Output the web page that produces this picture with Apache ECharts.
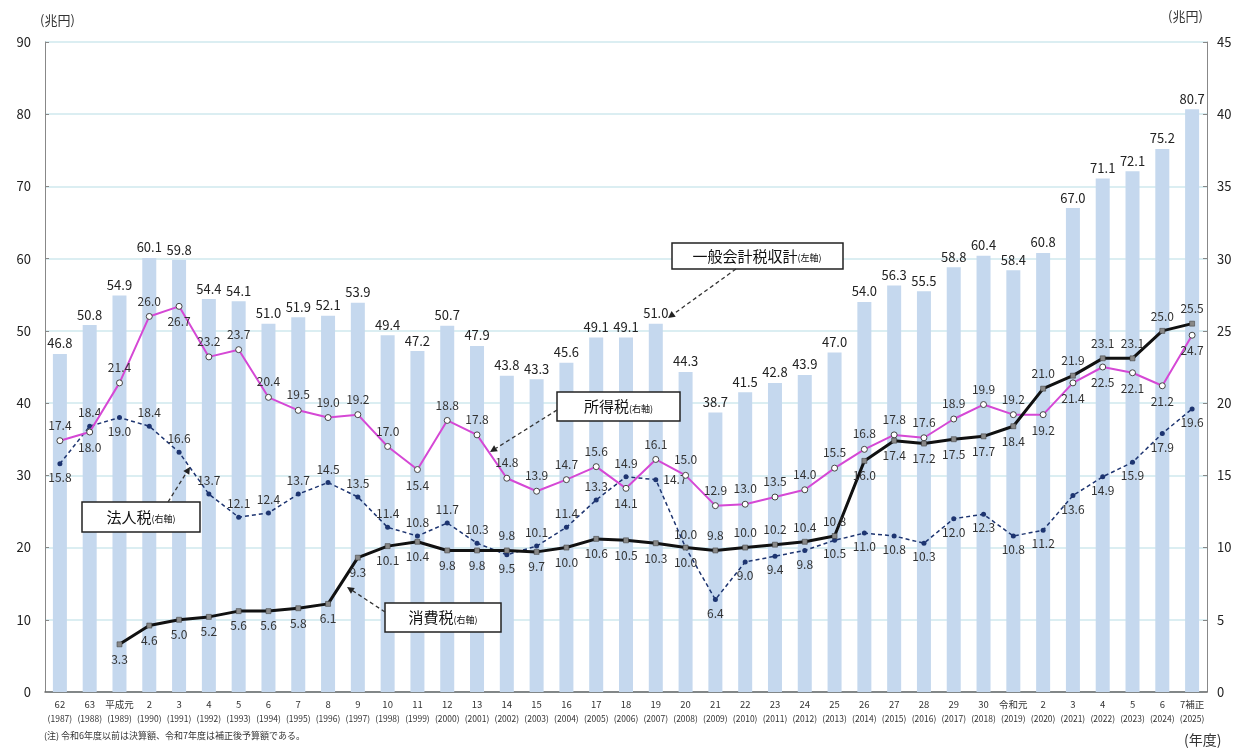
<!DOCTYPE html>
<html><head><meta charset="utf-8">
<script src="https://cdn.jsdelivr.net/npm/echarts@6/dist/echarts.min.js"></script>
<style>html,body{margin:0;padding:0;background:#fff}#c{width:1237px;height:753px}</style>
</head><body><div id="c"></div>
<script>
const eraLabels = ['62','63','平成元','2','3','4','5','6','7','8','9','10','11','12','13','14','15','16','17','18','19','20','21','22','23','24','25','26','27','28','29','30','令和元','2','3','4','5','6','7補正'];
const yearLabels = ['1987','1988','1989','1990','1991','1992','1993','1994','1995','1996','1997','1998','1999','2000','2001','2002','2003','2004','2005','2006','2007','2008','2009','2010','2011','2012','2013','2014','2015','2016','2017','2018','2019','2020','2021','2022','2023','2024','2025'];
const totalTax = [46.8,50.8,54.9,60.1,59.8,54.4,54.1,51.0,51.9,52.1,53.9,49.4,47.2,50.7,47.9,43.8,43.3,45.6,49.1,49.1,51.0,44.3,38.7,41.5,42.8,43.9,47.0,54.0,56.3,55.5,58.8,60.4,58.4,60.8,67.0,71.1,72.1,75.2,80.7];
const incomeTax = [17.4,18.0,21.4,26.0,26.7,23.2,23.7,20.4,19.5,19.0,19.2,17.0,15.4,18.8,17.8,14.8,13.9,14.7,15.6,14.1,16.1,15.0,12.9,13.0,13.5,14.0,15.5,16.8,17.8,17.6,18.9,19.9,19.2,19.2,21.4,22.5,22.1,21.2,24.7];
const corpTax = [15.8,18.4,19.0,18.4,16.6,13.7,12.1,12.4,13.7,14.5,13.5,11.4,10.8,11.7,10.3,9.5,10.1,11.4,13.3,14.9,14.7,10.0,6.4,9.0,9.4,9.8,10.5,11.0,10.8,10.3,12.0,12.3,10.8,11.2,13.6,14.9,15.9,17.9,19.6];
const consTax = [null,null,3.3,4.6,5.0,5.2,5.6,5.6,5.8,6.1,9.3,10.1,10.4,9.8,9.8,9.8,9.7,10.0,10.6,10.5,10.3,10.0,9.8,10.0,10.2,10.4,10.8,16.0,17.4,17.2,17.5,17.7,18.4,21.0,21.9,23.1,23.1,25.0,25.5];

// label placement (t=top, b=bottom, r=right)
const incomePos = ('tbttb' + 'ttttttt' + 'b' + 'tttttt' + 'b' + 'ttttttttttttt' + 'bbbbbb').split('');
const corpPos   = ('btbt' + 'ttttttttttt' + 'b' + 'tttt' + 'r' + 't' + 'bbbbbbbbbbbbbbbbb').split('');
const consPos   = ('bbbbbbbbbbbbbbb' + 't' + 'bbbbbb' + 'ttttt' + 'bbbbbb' + 'tttttt').split('');

const FONT = '"Noto Sans CJK JP", "Noto Sans", sans-serif';
const posMap = {t:'top', b:'bottom', r:'right'};
function mk(vals, pos){
  return vals.map((v,i)=> v==null ? '-' : ({value:v, label:{position:posMap[pos[i]]}}));
}
const chart = echarts.init(document.getElementById('c'));

function arrow(x1,y1,x2,y2){
  const ang = Math.atan2(y2-y1, x2-x1);
  const L = 7, W = 3.5;
  const bx = x2 - L*Math.cos(ang), by = y2 - L*Math.sin(ang);
  const px = -Math.sin(ang)*W, py = Math.cos(ang)*W;
  return [
    {type:'line', shape:{x1,y1,x2:bx,y2:by}, style:{stroke:'#333', lineWidth:1.3, lineDash:[4,3]}, z:100},
    {type:'polygon', shape:{points:[[x2,y2],[bx+px,by+py],[bx-px,by-py]]}, style:{fill:'#222'}, z:100}
  ];
}
function box(x,y,w,h,main){
  return [
    {type:'rect', shape:{x,y,width:w,height:h}, style:{fill:'#fff', stroke:'#222', lineWidth:1.5}, z:100},
    {type:'text', x:x+w/2, y:y+h/2, style:{text:'{a|'+main+'}{s|(右軸)}', align:'center', verticalAlign:'middle',
      rich:{a:{fontSize:15, fontFamily:FONT, fill:'#111'}, s:{fontSize:9, fontFamily:FONT, fill:'#111', padding:[4,0,0,0]}}}, z:101}
  ];
}

const graphic = [].concat(
  [{type:'text', left:40, top:14, style:{text:'(兆円)', fontSize:13, fontFamily:FONT, fill:'#333'}},
   {type:'text', left:1168, top:10, style:{text:'(兆円)', fontSize:13, fontFamily:FONT, fill:'#333'}},
   {type:'text', left:1184, top:733, style:{text:'(年度)', fontSize:14, fontFamily:FONT, fill:'#333'}},
   {type:'text', left:44, top:731, style:{text:'(注) 令和6年度以前は決算額、令和7年度は補正後予算額である。', fontSize:9, fontFamily:FONT, fill:'#333'}}],
  [{type:'rect', shape:{x:672,y:243,width:171,height:26}, style:{fill:'#fff', stroke:'#222', lineWidth:1.5}, z:100},
   {type:'text', x:757, y:256, style:{text:'{a|一般会計税収計}{s|(左軸)}', align:'center', verticalAlign:'middle',
     rich:{a:{fontSize:15, fontFamily:FONT, fill:'#111'}, s:{fontSize:9, fontFamily:FONT, fill:'#111', padding:[4,0,0,0]}}}, z:101}],
  arrow(736,269,668,318),
  box(557,392,123,29,'所得税'),
  arrow(557,410,490,452),
  box(82,502,118,30,'法人税'),
  arrow(168,502,190,467),
  box(385,603,116,29,'消費税'),
  arrow(385,612,347,587)
);

chart.setOption({
  animation:false,
  textStyle:{fontFamily:FONT},
  grid:{left:45, right:30, top:42, bottom:61},
  xAxis:{type:'category', data:eraLabels.map((e,i)=>e+'\n('+yearLabels[i]+')'),
    axisLine:{lineStyle:{color:'#666', width:1.5}}, axisTick:{show:false},
    axisLabel:{interval:0, fontSize:8.5, color:'#333', lineHeight:16, margin:4,
      formatter:(v)=>{const p=v.split('\n'); return '{a|'+p[0]+'}\n{b|'+p[1]+'}';},
      rich:{a:{fontSize:9.5, color:'#333', lineHeight:16}, b:{fontSize:8.5, color:'#333', lineHeight:14}}}},
  yAxis:[
    {type:'value', min:0, max:90, interval:10, position:'left',
      axisLine:{show:true, lineStyle:{color:'#888'}}, axisTick:{show:true, inside:true, length:4, lineStyle:{color:'#888'}},
      axisLabel:{fontSize:13, color:'#222', margin:14},
      splitLine:{lineStyle:{color:'#cfe8ee', width:1.5}}},
    {type:'value', min:0, max:45, interval:5, position:'right',
      axisLine:{show:true, lineStyle:{color:'#888'}}, axisTick:{show:true, inside:true, length:4, lineStyle:{color:'#888'}},
      axisLabel:{fontSize:13, color:'#222', margin:10},
      splitLine:{show:false}}
  ],
  series:[
    {name:'一般会計税収計', type:'bar', data:totalTax, yAxisIndex:0, barWidth:14,
      itemStyle:{color:'#c5d8ee'},
      label:{show:true, position:'top', fontSize:13, color:'#222', distance:4, formatter:(p)=>p.value.toFixed(1)}, z:2},
    {name:'所得税', type:'line', data:mk(incomeTax, incomePos), yAxisIndex:1,
      lineStyle:{color:'#d548d5', width:2}, symbol:'circle', symbolSize:6,
      itemStyle:{color:'#fff', borderColor:'#444', borderWidth:1},
      label:{show:true, fontSize:12, color:'#333', distance:6, formatter:(p)=>p.value.toFixed(1)}, z:5},
    {name:'法人税', type:'line', data:mk(corpTax, corpPos), yAxisIndex:1,
      lineStyle:{color:'#1d3470', width:1.5, type:[4,3]}, symbol:'circle', symbolSize:5,
      itemStyle:{color:'#1d3470'},
      label:{show:true, fontSize:12, color:'#333', distance:5, formatter:(p)=>p.value.toFixed(1)}, z:4},
    {name:'消費税', type:'line', data:mk(consTax, consPos), yAxisIndex:1,
      lineStyle:{color:'#111', width:3}, symbol:'rect', symbolSize:5,
      itemStyle:{color:'#888', borderColor:'#333', borderWidth:0.5},
      label:{show:true, fontSize:12, color:'#333', distance:6, formatter:(p)=>p.value.toFixed(1)}, z:6}
  ],
  graphic: graphic
});
</script></body></html>
